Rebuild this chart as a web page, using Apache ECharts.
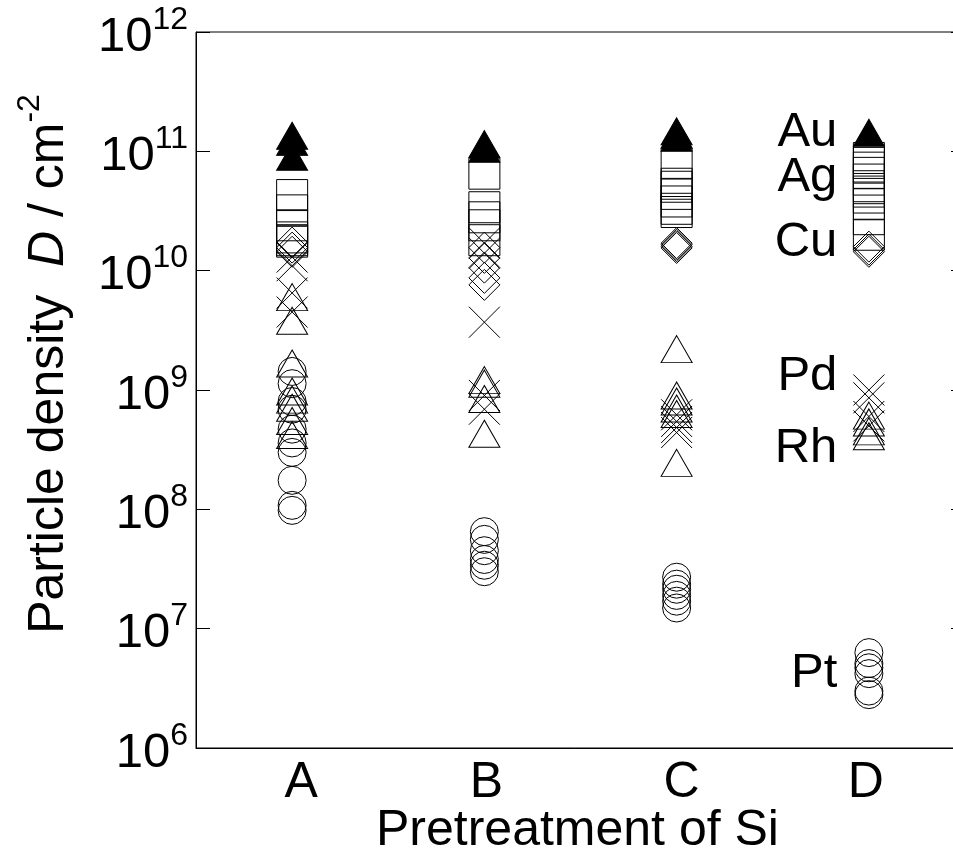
<!DOCTYPE html>
<html>
<head>
<meta charset="utf-8">
<script src="https://cdn.jsdelivr.net/npm/echarts@6/dist/echarts.min.js"></script>
<style>
  html, body { margin: 0; padding: 0; background: #fff; }
  #chart { width: 953px; height: 859px; }
</style>
</head>
<body>
<div id="chart"></div>
<script>
// Pretreatment categories on the x axis
const pretreatments = ['A', 'B', 'C', 'D'];

// Particle density (cm^-2), one inner list per pretreatment A..D
const auDensity = [
  [1.35e11, 1.2e11, 9.0e10],
  [1.15e11, 1.05e11],
  [1.47e11, 1.38e11, 1.3e11],
  [1.43e11]
];
const agDensity = [
  [4.3e10, 3.2e10, 2.4e10, 1.9e10, 1.8e10, 1.75e10],
  [6.5e10, 3.4e10, 2.8e10, 2.4e10, 1.8e10],
  [7.9e10, 5.35e10, 5.05e10, 4.4e10, 3.8e10, 3.3e10, 3.1e10],
  [8.8e10, 8.0e10, 7.3e10, 6.6e10, 5.8e10, 5.1e10, 4.6e10, 4.1e10, 3.6e10, 2.7e10, 2.0e10]
];
const cuDensity = [
  [1.72e10, 1.56e10, 1.44e10],
  [1.56e10, 1.28e10, 1.06e10, 8.7e9, 7.6e9],
  [1.7e10, 1.65e10, 1.6e10, 1.55e10],
  [1.59e10, 1.5e10, 1.44e10]
];
const pdDensity = [
  [1.3e10, 1.1e10, 6.5e9, 4.5e9],
  [1.7e10, 1.4e10, 3.7e9, 9.0e8, 6.9e8],
  [6.2e8, 5.45e8, 4.85e8, 4.4e8],
  [1.0e9, 8.6e8, 6.0e8, 5.0e8]
];
const rhDensity = [
  [6.0e9, 3.8e9, 1.67e9, 9.7e8, 8.3e8, 7.1e8, 5.5e8, 4.2e8],
  [1.21e9, 1.13e9, 8.4e8, 4.3e8],
  [2.2e9, 9.0e8, 8.0e8, 7.0e8, 6.3e8, 2.45e8],
  [6.1e8, 5.35e8, 4.5e8, 4.1e8]
];
const ptDensity = [
  [1.43e9, 1.13e9, 8.0e8, 6.9e8, 4.7e8, 3.6e8, 3.0e8, 1.75e8, 1.08e8, 9.8e7],
  [6.5e7, 5.6e7, 4.5e7, 3.8e7, 3.4e7, 3.0e7],
  [2.7e7, 2.36e7, 2.14e7, 1.9e7, 1.7e7, 1.49e7],
  [6.3e6, 5.1e6, 4.7e6, 4.2e6, 3.0e6, 2.8e6]
];

// Element names written beside column D, and the density level each sits at
const metalNames = ['Au', 'Ag', 'Cu', 'Pd', 'Rh', 'Pt'];
const metalLabelDensity = [1.43e11, 6.0e10, 1.71e10, 1.3e9, 3.24e8, 4.25e6];

const FONT = '"Liberation Sans", Arial, sans-serif';
const crossPath = 'path://M0,0L10,10M10,0L0,10';

function toPoints(perCategory) {
  const pts = [];
  perCategory.forEach((vals, i) => {
    vals.forEach(v => pts.push([pretreatments[i], v]));
  });
  return pts;
}

function markerSeries(name, data, symbol, size, filled) {
  return {
    name: name,
    type: 'scatter',
    data: toPoints(data),
    symbol: symbol,
    symbolSize: size,
    silent: true,
    itemStyle: {
      color: filled ? '#000' : 'rgba(0,0,0,0)',
      borderColor: '#000',
      borderWidth: 1,
      opacity: 1
    }
  };
}

// small horizontal nudges for the category letters
const letterStyles = {
  cA: { fontFamily: FONT, fontSize: 50, color: '#000', padding: [0, 0, 0, 18] },
  cB: { fontFamily: FONT, fontSize: 50, color: '#000', padding: [0, 0, 0, 4] },
  cC: { fontFamily: FONT, fontSize: 50, color: '#000', padding: [0, 0, 0, 10] },
  cD: { fontFamily: FONT, fontSize: 50, color: '#000', padding: [0, 6, 0, 0] }
};

const chart = echarts.init(document.getElementById('chart'), null, { renderer: 'canvas' });

const option = {
  animation: false,
  backgroundColor: '#fff',
  grid: {
    left: 196,
    top: 32,
    width: 769,
    height: 716,
    show: true,
    borderColor: '#000',
    borderWidth: 1,
    containLabel: false,
    outerBoundsMode: 'none'
  },
  xAxis: {
    type: 'category',
    data: pretreatments,
    boundaryGap: true,
    axisLine: { show: true, lineStyle: { color: '#000', width: 1 } },
    axisTick: { show: false },
    splitLine: { show: false },
    axisLabel: {
      color: '#000',
      fontFamily: FONT,
      fontSize: 50,
      margin: 10,
      formatter: v => '{c' + v + '|' + v + '}',
      rich: letterStyles
    }
  },
  yAxis: [
    {
      type: 'log',
      logBase: 10,
      min: 1e6,
      max: 1e12,
      interval: 1,
      position: 'left',
      axisLine: { show: true, lineStyle: { color: '#000', width: 1 } },
      axisTick: { show: true, inside: true, length: 14, lineStyle: { color: '#000', width: 1 } },
      minorTick: { show: false },
      splitLine: { show: false },
      axisLabel: {
        margin: 8,
        formatter: v => '{b|10}{s|' + Math.round(Math.log10(v)) + '}',
        rich: {
          b: { fontFamily: FONT, fontSize: 49, color: '#000', padding: [10, 0, 0, 0] },
          s: { fontFamily: FONT, fontSize: 32, color: '#000', padding: [0, 0, 24, 0] }
        }
      }
    },
    {
      type: 'log',
      logBase: 10,
      min: 1e6,
      max: 1e12,
      interval: 1,
      position: 'right',
      axisLine: { show: true, lineStyle: { color: '#000', width: 1 } },
      axisTick: { show: true, inside: true, length: 14, lineStyle: { color: '#000', width: 1 } },
      axisLabel: { show: false },
      splitLine: { show: false }
    }
  ],
  series: [
    markerSeries('Pt', ptDensity, 'circle', 28, false),
    markerSeries('Rh', rhDensity, 'triangle', [31, 27], false),
    markerSeries('Pd', pdDensity, crossPath, 31, false),
    markerSeries('Cu', cuDensity, 'diamond', 31, false),
    markerSeries('Ag', agDensity, 'rect', 31, false),
    markerSeries('Au', auDensity, 'triangle', [31, 27], true),
    {
      name: 'names',
      type: 'scatter',
      symbol: 'circle',
      symbolSize: 1,
      silent: true,
      itemStyle: { color: 'rgba(0,0,0,0)', borderWidth: 0, opacity: 1 },
      data: metalNames.map((n, i) => ({ name: n, value: ['D', metalLabelDensity[i]] })),
      label: {
        show: true,
        position: 'left',
        distance: 31,
        formatter: '{t|{b}}',
        rich: {
          t: { color: '#000', fontFamily: FONT, fontSize: 49, textBorderWidth: 0 }
        }
      }
    }
  ],
  graphic: [
    {
      type: 'text',
      x: 376,
      y: 806,
      silent: true,
      style: {
        text: 'Pretreatment of Si',
        fill: '#000',
        font: '50px ' + FONT,
        textAlign: 'left',
        textVerticalAlign: 'top'
      }
    },
    {
      type: 'text',
      x: 49,
      y: 364,
      rotation: Math.PI / 2,
      silent: true,
      style: {
        text: '{n|Particle density  }{i|D}{n| / cm}{s|-2}',
        align: 'center',
        verticalAlign: 'middle',
        rich: {
          n: { fontFamily: FONT, fontSize: 50, fill: '#000' },
          i: { fontFamily: FONT, fontSize: 50, fontStyle: 'italic', fill: '#000' },
          s: { fontFamily: FONT, fontSize: 32, fill: '#000', padding: [0, 0, 38, 0] }
        }
      }
    }
  ]
};

chart.setOption(option);
</script>
</body>
</html>
